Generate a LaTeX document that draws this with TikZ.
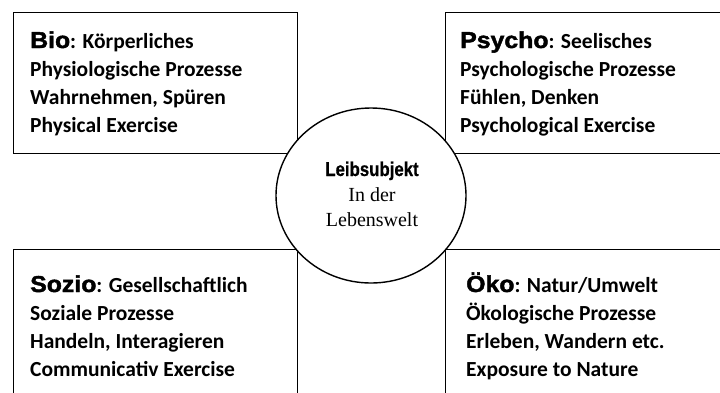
\documentclass[tikz,border=0pt]{standalone}
\usepackage{fontspec}
\setmainfont{Carlito}
\newfontfamily\heavyfont{Liberation Sans}[FakeBold=1.8,FakeStretch=1.08]
\newfontfamily\narrowfont{Liberation Sans}[FakeStretch=0.84,FakeBold=0.5]
\newfontfamily\timesfont{Liberation Serif}
\usetikzlibrary{shapes.geometric}
\begin{document}
\begin{tikzpicture}[x=1pt,y=-1pt]
\useasboundingbox (0,0) rectangle (720,392);
\tikzset{
  frame/.style={draw, line width=1.4pt, inner sep=0, anchor=north west},
  ln/.style={anchor=base west, inner sep=0, font=\fontsize{21.5}{28}\selectfont\bfseries},
  ctext/.style={anchor=base, inner sep=0}
}
\newcommand\hvword[1]{{\heavyfont\bfseries\fontsize{23}{28}\selectfont #1}}
% boxes
\node[frame, minimum width=284pt, minimum height=141pt] (biobox) at (13,12) {};
\node[frame, minimum width=278pt, minimum height=141pt] (psybox) at (445,12) {};
\node[frame, minimum width=284pt, minimum height=147pt] (sozbox) at (13,249) {};
\node[frame, minimum width=278pt, minimum height=147pt] (okobox) at (445,249) {};
% circle
\node[draw, line width=1.4pt, fill=white, ellipse, minimum width=190pt, minimum height=175pt, inner sep=0] (leib) at (371,195.5) {};
\node[ctext, font=\narrowfont\bfseries\fontsize{20}{24}\selectfont] (c1) at (372,176) {Leibsubjekt};
\node[ctext, font=\timesfont\fontsize{20}{24}\selectfont] (c2) at (372,201) {In der};
\node[ctext, font=\timesfont\fontsize{20}{24}\selectfont] (c3) at (372,226.5) {Lebenswelt};
% Bio
\node[ln] (b1) at (30,48) {\hvword{Bio}: Körperliches};
\node[ln] (b2) at (30,76) {Physiologische Prozesse};
\node[ln] (b3) at (30,104) {Wahrnehmen, Spüren};
\node[ln] (b4) at (30,132) {Physical Exercise};
% Psycho
\node[ln] (p1) at (460,48) {\hvword{Psycho}: Seelisches};
\node[ln] (p2) at (460,76) {Psychologische Prozesse};
\node[ln] (p3) at (460,104) {Fühlen, Denken};
\node[ln] (p4) at (460,132) {Psychological Exercise};
% Sozio
\node[ln] (s1) at (30,292) {\hvword{Sozio}: Gesellschaftlich};
\node[ln] (s2) at (30,320) {Soziale Prozesse};
\node[ln] (s3) at (30,348) {Handeln, Interagieren};
\node[ln] (s4) at (30,376) {Communicativ Exercise};
% Oko
\node[ln] (o1) at (466,292) {\hvword{Öko}: Natur/Umwelt};
\node[ln] (o2) at (466,320) {Ökologische Prozesse};
\node[ln] (o3) at (466,348) {Erleben, Wandern etc.};
\node[ln] (o4) at (466,376) {Exposure to Nature};
\end{tikzpicture}
\end{document}
